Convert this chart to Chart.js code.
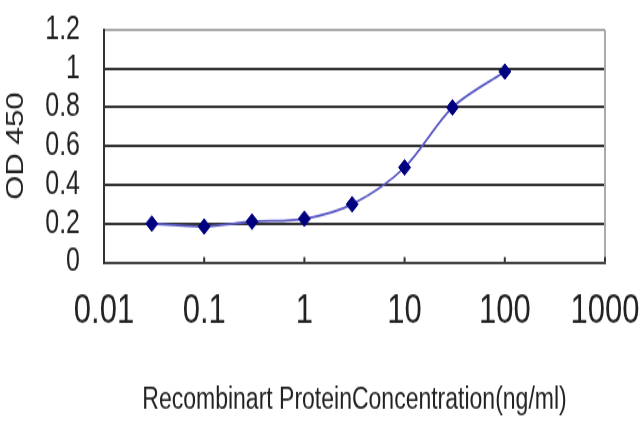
<!DOCTYPE html>
<html>
<head>
<meta charset="utf-8">
<script src="https://cdn.jsdelivr.net/npm/chart.js@4.4.1/dist/chart.umd.min.js"></script>
<style>
  html, body { margin: 0; padding: 0; background: #fff; overflow: hidden; }
  canvas { display: block; }
</style>
</head>
<body>
<!-- drawn at 640x328 and shown stretched to 640x427, like the squeezed-tall original -->
<canvas id="chart" width="640" height="328" style="width:640px;height:427px"></canvas>
<script>
// concentration (ng/ml) and OD 450 readings
const concentrations = [0.03, 0.1, 0.3, 1, 3, 10, 30, 100];
const od450 = [0.20, 0.185, 0.21, 0.225, 0.30, 0.49, 0.80, 0.985];

const xTicks = [0.01, 0.1, 1, 10, 100, 1000];
const xTickLabels = ['0.01', '0.1', '1', '10', '100', '1000'];
const yTicks = [0, 0.2, 0.4, 0.6, 0.8, 1, 1.2];
const yTickLabels = ['0', '0.2', '0.4', '0.6', '0.8', '1', '1.2'];

const font = 'Liberation Sans, Arial, sans-serif';

// right frame edge and the little inward ticks on the x axis
const framePlugin = {
    id: 'frame',
    afterDraw(chart) {
        const { ctx, chartArea: a, scales } = chart;
        ctx.save();
        ctx.strokeStyle = '#aaa';
        ctx.lineWidth = 2;
        ctx.beginPath();
        ctx.moveTo(a.right, a.top);
        ctx.lineTo(a.right, a.bottom);
        ctx.stroke();
        ctx.strokeStyle = '#333';
        ctx.beginPath();
        xTicks.slice(1).forEach(v => {
            const px = scales.x.getPixelForValue(v);
            ctx.moveTo(px, a.bottom);
            ctx.lineTo(px, a.bottom - 4);
        });
        ctx.stroke();
        ctx.restore();
    }
};

new Chart(document.getElementById('chart'), {
    type: 'line',
    data: {
        datasets: [{
            data: concentrations.map((c, i) => ({ x: c, y: od450[i] })),
            borderColor: '#5a5ac4',
            borderWidth: 1.8,
            tension: 0.3,
            pointStyle: 'rectRot',
            pointRadius: 6,
            pointBackgroundColor: '#000080',
            pointBorderColor: '#000080',
            pointBorderWidth: 1
        }]
    },
    options: {
        responsive: false,
        animation: false,
        layout: { padding: { top: 23, right: 35, left: 0, bottom: 0 } },
        plugins: {
            legend: { display: false },
            tooltip: { enabled: false }
        },
        scales: {
            x: {
                type: 'logarithmic',
                min: 0.01,
                max: 1000,
                afterBuildTicks: scale => {
                    scale.ticks = xTicks.map(v => ({ value: v }));
                },
                afterFit: scale => {
                    scale.height = 126.5;
                    scale.paddingLeft = 0;
                    scale.paddingRight = 0;
                },
                grid: { display: false },
                border: { display: true, color: '#444', width: 2 },
                ticks: {
                    autoSkip: false,
                    maxRotation: 0,
                    padding: 11,
                    color: '#222',
                    font: { family: font, size: 31 },
                    callback: v => xTickLabels[xTicks.indexOf(v)]
                },
                title: {
                    display: true,
                    text: 'Recombinart ProteinConcentration(ng/ml)',
                    color: '#222',
                    font: { family: font, size: 23 },
                    padding: { top: 0, bottom: 7 }
                }
            },
            y: {
                min: 0,
                max: 1.2,
                afterBuildTicks: scale => {
                    scale.ticks = yTicks.map(v => ({ value: v }));
                },
                afterFit: scale => {
                    scale.width = 104;
                    scale.paddingTop = 0;
                    scale.paddingBottom = 0;
                },
                grid: {
                    color: c => (c.tick && c.tick.value > 1.19 ? '#aaa' : '#333'),
                    lineWidth: 2,
                    drawTicks: false
                },
                border: { display: true, color: '#333', width: 2 },
                ticks: {
                    autoSkip: false,
                    padding: 24,
                    color: '#222',
                    font: { family: font, size: 25 },
                    callback: v => yTickLabels[yTicks.indexOf(v)]
                },
                title: {
                    display: true,
                    text: 'OD 450',
                    color: '#222',
                    font: { family: font, size: 24 },
                    padding: { top: 2, bottom: 0 }
                }
            }
        }
    },
    plugins: [framePlugin]
});
</script>
</body>
</html>
